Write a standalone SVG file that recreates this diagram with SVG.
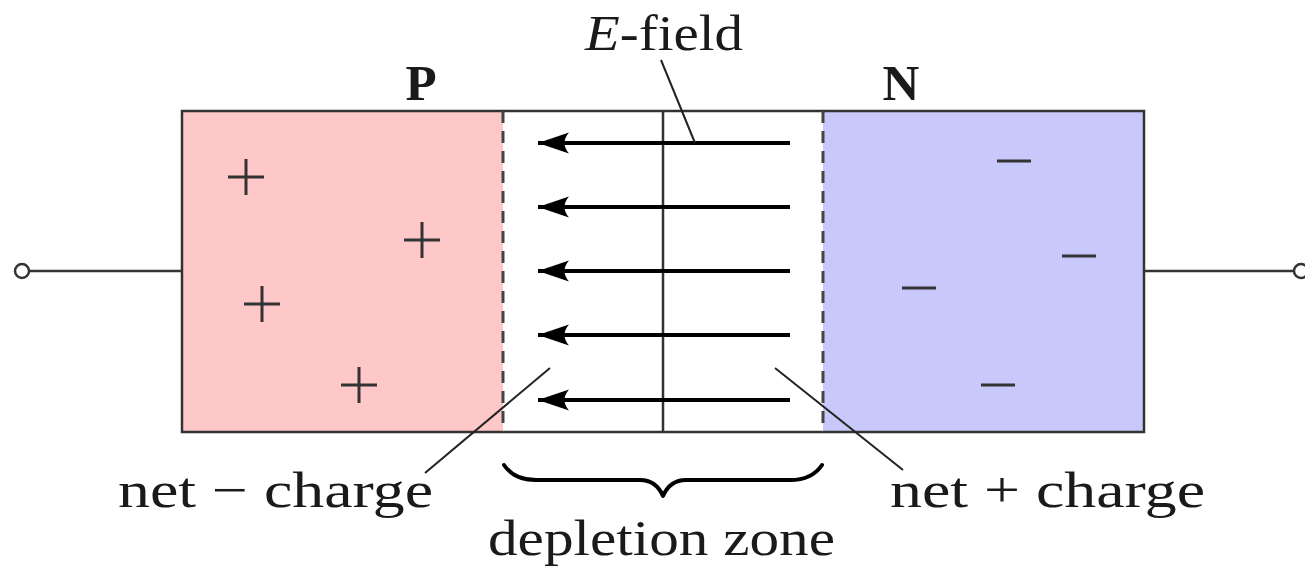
<svg xmlns="http://www.w3.org/2000/svg" width="1305" height="567" viewBox="0 0 1305 567">
  <defs>
    <style>
      .edge { stroke: #333; stroke-width: 2.5; fill: none; }
      .thin { stroke: #222; stroke-width: 2; fill: none; }
      .dash { stroke: #444; stroke-width: 3; stroke-dasharray: 12 8; fill: none; }
      .sign { stroke: #333; stroke-width: 3; fill: none; }
      .field { stroke: #000; stroke-width: 4; fill: none; }
      .txt { font-family: "Liberation Serif", "DejaVu Serif", serif; font-size: 51px; fill: #1a1a1a; }
      .bold { font-weight: bold; }
    </style>
    <marker id="arrow" markerUnits="userSpaceOnUse" markerWidth="36" markerHeight="26" refX="33" refY="13" orient="auto" viewBox="0 0 36 26">
      <path d="M33,13 L2,2.5 Q11,13 2,23.5 Z" fill="#000"/>
    </marker>
  </defs>

  <g id="p-region">
    <rect x="182" y="111" width="321" height="321" fill="#ffc8c8"/>
  </g>
  <g id="depletion-region">
    <rect x="503" y="111" width="320" height="321" fill="#ffffff"/>
  </g>
  <g id="n-region">
    <rect x="823" y="111" width="321" height="321" fill="#c8c8fa"/>
  </g>
  <g id="body-outline">
    <rect x="182" y="111" width="962" height="321" class="edge"/>
    <line x1="503" y1="111" x2="503" y2="432" class="dash"/>
    <line x1="823" y1="111" x2="823" y2="432" class="dash"/>
    <line x1="663" y1="111" x2="663" y2="432" class="edge"/>
  </g>

  <g id="plus-charges">
    <path class="sign" d="M228,177 H264 M246,159 V195"/>
    <path class="sign" d="M404,240 H440 M422,222 V258"/>
    <path class="sign" d="M244,304 H280 M262,286 V322"/>
    <path class="sign" d="M341,385 H377 M359,367 V403"/>
  </g>
  <g id="minus-charges">
    <path class="sign" d="M997,161 H1031"/>
    <path class="sign" d="M1062,256 H1096"/>
    <path class="sign" d="M902,288 H936"/>
    <path class="sign" d="M981,385 H1015"/>
  </g>

  <g id="terminal-left">
    <line x1="29" y1="271" x2="182" y2="271" class="edge"/>
    <circle cx="22" cy="271" r="7" fill="#fff" stroke="#333" stroke-width="2.5"/>
  </g>
  <g id="terminal-right">
    <line x1="1144" y1="271" x2="1294" y2="271" class="edge"/>
    <circle cx="1301" cy="271" r="7" fill="#fff" stroke="#333" stroke-width="2.5"/>
  </g>

  <g id="connectors">
    <line class="field" x1="790" y1="143" x2="538" y2="143" marker-end="url(#arrow)"/>
    <line class="field" x1="790" y1="207" x2="538" y2="207" marker-end="url(#arrow)"/>
    <line class="field" x1="790" y1="271" x2="538" y2="271" marker-end="url(#arrow)"/>
    <line class="field" x1="790" y1="335" x2="538" y2="335" marker-end="url(#arrow)"/>
    <line class="field" x1="790" y1="400" x2="538" y2="400" marker-end="url(#arrow)"/>
    <line class="thin" x1="661" y1="60" x2="695" y2="143"/>
    <line class="thin" x1="550" y1="368" x2="425" y2="473"/>
    <line class="thin" x1="775" y1="368" x2="903" y2="470"/>
    <path d="M504,465 Q514,480 536,480 H640 Q656,480 663,496 Q670,480 686,480 H790 Q812,480 822,465" fill="none" stroke="#000" stroke-width="4" stroke-linejoin="round" stroke-linecap="round"/>
  </g>

  <g id="labels">
    <text class="txt bold" x="421" y="100" text-anchor="middle">P</text>
    <text class="txt bold" x="901" y="100" text-anchor="middle">N</text>
    <text class="txt" x="585" y="50" textLength="158" lengthAdjust="spacingAndGlyphs"><tspan font-style="italic">E</tspan>-field</text>
    <text class="txt" x="118" y="507" textLength="315" lengthAdjust="spacingAndGlyphs">net − charge</text>
    <text class="txt" x="890" y="507" textLength="315" lengthAdjust="spacingAndGlyphs">net + charge</text>
    <text class="txt" x="488" y="555" textLength="347" lengthAdjust="spacingAndGlyphs">depletion zone</text>
  </g>
</svg>
